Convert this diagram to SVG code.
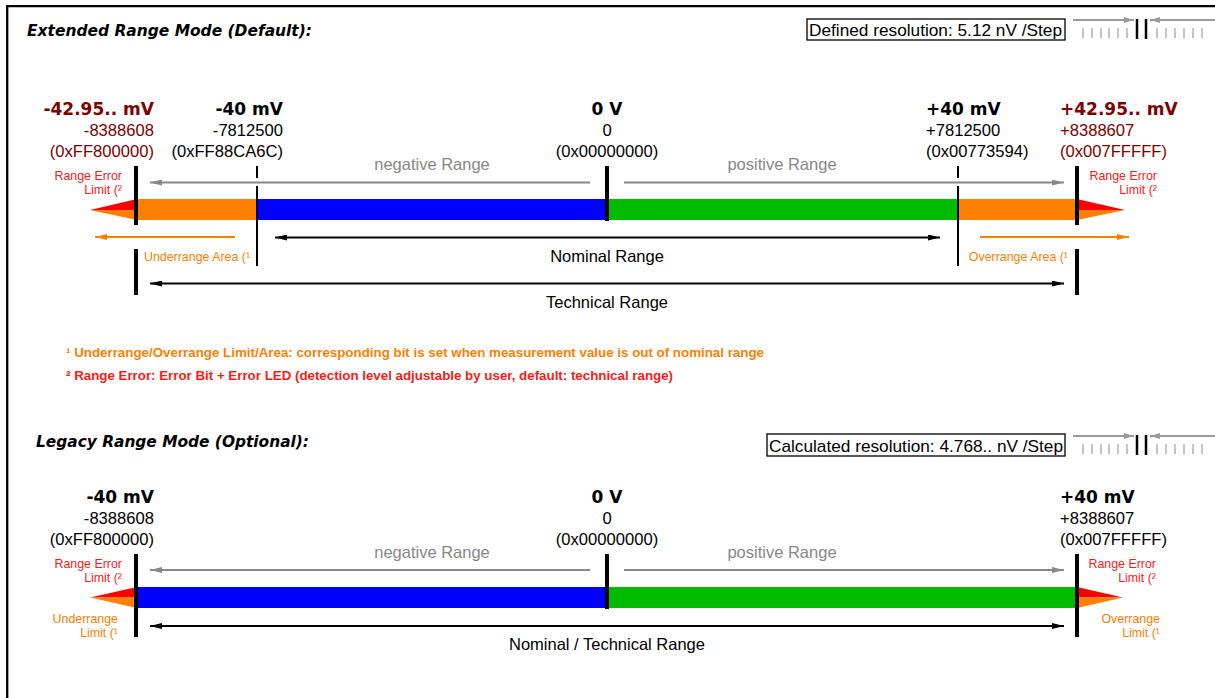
<svg xmlns="http://www.w3.org/2000/svg" width="1215" height="698" viewBox="0 0 1215 698">
<style>
.t{font-family:"DejaVu Sans",sans-serif;font-weight:bold;font-style:oblique;font-size:15.5px;fill:#000}
.b{font-family:"DejaVu Sans",sans-serif;font-weight:bold;font-size:17px}
.v{font-family:"Liberation Sans",Arial,sans-serif;font-size:16.6px}
.r{font-family:"Liberation Sans",Arial,sans-serif;font-size:16.5px}
.s{font-family:"Liberation Sans",Arial,sans-serif;font-size:12.4px}
.f{font-family:"Liberation Sans",Arial,sans-serif;font-size:12px;font-weight:bold}
.dr{fill:#800000}.k{fill:#000}.gr{fill:#888}.rd{fill:#ff1a1a}.or{fill:#ff8000}
.thick{stroke:#000;stroke-width:4}
.thin{stroke:#000;stroke-width:2}
.ga{stroke:#888;stroke-width:2;fill:none;marker-end:url(#mg)}
.ka{stroke:#000;stroke-width:2;fill:none;marker-start:url(#mk);marker-end:url(#mk)}
.oa{stroke:#ff8000;stroke-width:2;fill:none;marker-end:url(#mo)}
.tick{stroke:#c4c4c4;stroke-width:2}
.ia{stroke:#999;stroke-width:2;fill:none;marker-end:url(#mi)}
</style>
<defs>
<marker id="mg" markerUnits="userSpaceOnUse" markerWidth="12" markerHeight="6" refX="12" refY="3" orient="auto-start-reverse"><path d="M0,0 L12,3 L0,6 z" fill="#888"/></marker>
<marker id="mk" markerUnits="userSpaceOnUse" markerWidth="12" markerHeight="6" refX="12" refY="3" orient="auto-start-reverse"><path d="M0,0 L12,3 L0,6 z" fill="#000"/></marker>
<marker id="mo" markerUnits="userSpaceOnUse" markerWidth="12" markerHeight="6" refX="12" refY="3" orient="auto-start-reverse"><path d="M0,0 L12,3 L0,6 z" fill="#ff8000"/></marker>
<marker id="mi" markerUnits="userSpaceOnUse" markerWidth="10" markerHeight="6" refX="10" refY="3" orient="auto-start-reverse"><path d="M0,0 L10,3 L0,6 z" fill="#999"/></marker>
<g id="scaleIcon">
<line class="ia" x1="1073" y1="1" x2="1134" y2="1"/>
<line class="ia" x1="1215" y1="1" x2="1150" y2="1"/>
<line class="tick" x1="1083" y1="9" x2="1083" y2="19"/>
<line class="tick" x1="1092" y1="9" x2="1092" y2="19"/>
<line class="tick" x1="1101" y1="9" x2="1101" y2="19"/>
<line class="tick" x1="1109" y1="9" x2="1109" y2="19"/>
<line class="tick" x1="1118" y1="9" x2="1118" y2="19"/>
<line class="tick" x1="1127" y1="9" x2="1127" y2="19"/>
<line class="tick" x1="1157" y1="9" x2="1157" y2="19"/>
<line class="tick" x1="1166" y1="9" x2="1166" y2="19"/>
<line class="tick" x1="1175" y1="9" x2="1175" y2="19"/>
<line class="tick" x1="1184" y1="9" x2="1184" y2="19"/>
<line class="tick" x1="1193" y1="9" x2="1193" y2="19"/>
<line class="tick" x1="1202" y1="9" x2="1202" y2="19"/>
<line stroke="#000" stroke-width="2.5" x1="1137" y1="0" x2="1137" y2="20"/>
<line stroke="#000" stroke-width="2.5" x1="1146" y1="0" x2="1146" y2="20"/>
</g>
</defs>

<g id="frame"><path d="M7.2,698 V6.2 H1215" fill="none" stroke="#000" stroke-width="2.3"/></g>

<!-- ===== Section 1 ===== -->
<g id="title1"><text class="t" x="27" y="36" textLength="285" lengthAdjust="spacingAndGlyphs">Extended Range Mode (Default):</text></g>
<g id="res1">
<rect x="807" y="19" width="258" height="21" fill="#fff" stroke="#000" stroke-width="1.3"/>
<text class="v k" x="809" y="36" style="font-size:17px" textLength="253" lengthAdjust="spacingAndGlyphs">Defined resolution: 5.12 nV /Step</text>
<use href="#scaleIcon" y="19"/>
</g>

<g id="bar1">
<polygon points="90,210 137,199 137,210" fill="#ff0000"/>
<polygon points="90,210 137,210 137,220" fill="#ff8000"/>
<rect x="137" y="199" width="120" height="21" fill="#ff8000"/>
<rect x="257" y="199" width="350" height="21" fill="#0000ff"/>
<rect x="607" y="199" width="351" height="21" fill="#00bb00"/>
<rect x="958" y="199" width="119" height="21" fill="#ff8000"/>
<polygon points="1125,210 1077,199 1077,210" fill="#ff0000"/>
<polygon points="1125,210 1077,210 1077,220" fill="#ff8000"/>
</g>

<g id="marks1">
<line class="thick" x1="136" y1="166" x2="136" y2="225"/>
<line class="thick" x1="136" y1="249" x2="136" y2="295"/>
<line class="thick" x1="1077" y1="166" x2="1077" y2="225"/>
<line class="thick" x1="1077" y1="249" x2="1077" y2="295"/>
<line class="thick" x1="607" y1="166" x2="607" y2="221"/>
<line class="thin" x1="257" y1="166" x2="257" y2="178"/>
<line class="thin" x1="257" y1="186" x2="257" y2="266"/>
<line class="thin" x1="958" y1="166" x2="958" y2="178"/>
<line class="thin" x1="958" y1="186" x2="958" y2="266"/>
</g>

<g id="connectors1">
<line class="ga" x1="590" y1="182.5" x2="150" y2="182.5"/>
<line class="ga" x1="624" y1="182.5" x2="1064" y2="182.5"/>
<line class="ka" x1="275" y1="237.5" x2="940" y2="237.5"/>
<line class="oa" x1="235" y1="237" x2="95" y2="237"/>
<line class="oa" x1="980" y1="237" x2="1129" y2="237"/>
<line class="ka" x1="150" y1="283.5" x2="1064" y2="283.5"/>
</g>

<g id="lbl1-min" text-anchor="end">
<text class="b dr" x="154" y="115">-42.95.. mV</text>
<text class="v dr" x="154" y="136">-8388608</text>
<text class="v dr" x="154" y="157">(0xFF800000)</text>
</g>
<g id="lbl1-n40" text-anchor="end">
<text class="b k" x="283" y="115">-40 mV</text>
<text class="v k" x="283" y="136">-7812500</text>
<text class="v k" x="283" y="157">(0xFF88CA6C)</text>
</g>
<g id="lbl1-zero" text-anchor="middle">
<text class="b k" x="607" y="115">0 V</text>
<text class="v k" x="607" y="136">0</text>
<text class="v k" x="607" y="157">(0x00000000)</text>
</g>
<g id="lbl1-p40">
<text class="b k" x="926" y="115">+40 mV</text>
<text class="v k" x="926" y="136">+7812500</text>
<text class="v k" x="926" y="157">(0x00773594)</text>
</g>
<g id="lbl1-max">
<text class="b dr" x="1060" y="115">+42.95.. mV</text>
<text class="v dr" x="1060" y="136">+8388607</text>
<text class="v dr" x="1060" y="157">(0x007FFFFF)</text>
</g>

<g id="lbl1-ranges">
<text class="r gr" x="432" y="170" text-anchor="middle">negative Range</text>
<text class="r gr" x="782" y="170" text-anchor="middle">positive Range</text>
<text class="r k" x="607" y="262" text-anchor="middle">Nominal Range</text>
<text class="r k" x="607" y="308" text-anchor="middle">Technical Range</text>
</g>
<g id="lbl1-limits">
<text class="s rd" x="122" y="180" text-anchor="end">Range Error</text>
<text class="s rd" x="122" y="194" text-anchor="end">Limit (²</text>
<text class="s rd" x="1157" y="180" text-anchor="end">Range Error</text>
<text class="s rd" x="1157" y="194" text-anchor="end">Limit (²</text>
<text class="s or" x="144" y="261">Underrange Area (¹</text>
<text class="s or" x="1068" y="261" text-anchor="end">Overrange Area (¹</text>
</g>

<g id="footnotes">
<text class="f or" x="66" y="357" textLength="698" lengthAdjust="spacingAndGlyphs">¹ Underrange/Overrange Limit/Area: corresponding bit is set when measurement value is out of nominal range</text>
<text class="f rd" x="66" y="380" textLength="607" lengthAdjust="spacingAndGlyphs">² Range Error: Error Bit + Error LED (detection level adjustable by user, default: technical range)</text>
</g>

<!-- ===== Section 2 ===== -->
<g id="title2"><text class="t" x="36" y="447" textLength="273" lengthAdjust="spacingAndGlyphs">Legacy Range Mode (Optional):</text></g>
<g id="res2">
<rect x="767" y="434" width="298" height="22" fill="#fff" stroke="#000" stroke-width="1.3"/>
<text class="v k" x="769" y="452" style="font-size:17px" textLength="294" lengthAdjust="spacingAndGlyphs">Calculated resolution: 4.768.. nV /Step</text>
<use href="#scaleIcon" y="435"/>
</g>

<g id="bar2">
<polygon points="90,597.5 137,587 137,597.5" fill="#ff0000"/>
<polygon points="90,597.5 137,597.5 137,608" fill="#ff8000"/>
<rect x="137" y="587" width="470" height="21" fill="#0000ff"/>
<rect x="607" y="587" width="470" height="21" fill="#00bb00"/>
<polygon points="1123,597.5 1077,587 1077,597.5" fill="#ff0000"/>
<polygon points="1123,597.5 1077,597.5 1077,608" fill="#ff8000"/>
</g>

<g id="marks2">
<line class="thick" x1="136" y1="554" x2="136" y2="637"/>
<line class="thick" x1="1077" y1="554" x2="1077" y2="637"/>
<line class="thick" x1="607" y1="554" x2="607" y2="609"/>
</g>

<g id="connectors2">
<line class="ga" x1="590" y1="570" x2="150" y2="570"/>
<line class="ga" x1="624" y1="570" x2="1064" y2="570"/>
<line class="ka" x1="150" y1="626" x2="1064" y2="626"/>
</g>

<g id="lbl2-min" text-anchor="end">
<text class="b k" x="154" y="503">-40 mV</text>
<text class="v k" x="154" y="524">-8388608</text>
<text class="v k" x="154" y="545">(0xFF800000)</text>
</g>
<g id="lbl2-zero" text-anchor="middle">
<text class="b k" x="607" y="503">0 V</text>
<text class="v k" x="607" y="524">0</text>
<text class="v k" x="607" y="545">(0x00000000)</text>
</g>
<g id="lbl2-max">
<text class="b k" x="1060" y="503">+40 mV</text>
<text class="v k" x="1060" y="524">+8388607</text>
<text class="v k" x="1060" y="545">(0x007FFFFF)</text>
</g>

<g id="lbl2-ranges">
<text class="r gr" x="432" y="558" text-anchor="middle">negative Range</text>
<text class="r gr" x="782" y="558" text-anchor="middle">positive Range</text>
<text class="r k" x="607" y="650" text-anchor="middle">Nominal / Technical Range</text>
</g>
<g id="lbl2-limits">
<text class="s rd" x="122" y="568" text-anchor="end">Range Error</text>
<text class="s rd" x="122" y="582" text-anchor="end">Limit (²</text>
<text class="s rd" x="1156" y="568" text-anchor="end">Range Error</text>
<text class="s rd" x="1156" y="582" text-anchor="end">Limit (²</text>
<text class="s or" x="118" y="623" text-anchor="end">Underrange</text>
<text class="s or" x="118" y="637" text-anchor="end">Limit (¹</text>
<text class="s or" x="1160" y="623" text-anchor="end">Overrange</text>
<text class="s or" x="1160" y="637" text-anchor="end">Limit (¹</text>
</g>
</svg>
